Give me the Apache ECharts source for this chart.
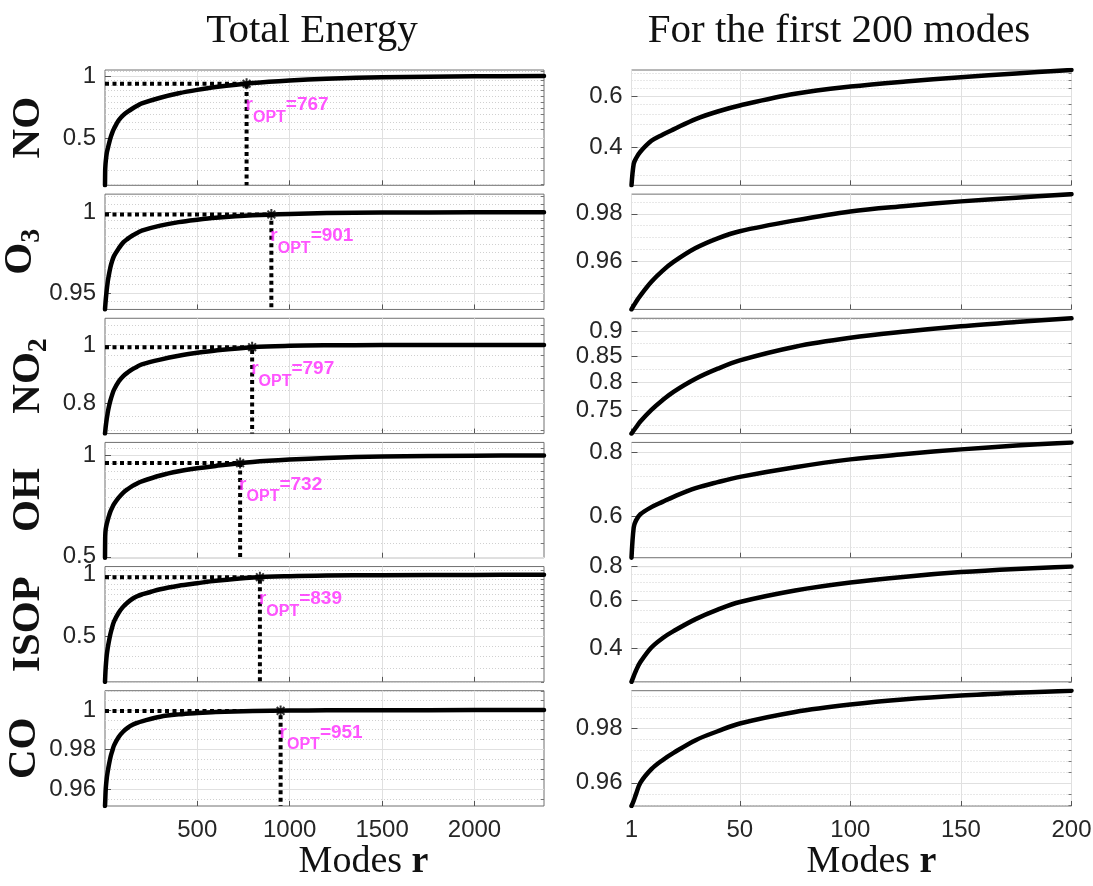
<!DOCTYPE html>
<html><head><meta charset="utf-8">
<script src="https://cdn.jsdelivr.net/npm/echarts@6/dist/echarts.min.js"></script>
<style>html,body{margin:0;padding:0;background:#fff}#c{width:1093px;height:886px}</style>
</head><body><div id="c"></div>
<script>
// ---------------- data ----------------
const speciesNames = ['NO', 'O3', 'NO2', 'OH', 'ISOP', 'CO'];
const speciesLabels = ['{n|NO}', '{n|O}{s|3}', '{n|NO}{s|2}', '{n|OH}', '{n|ISOP}', '{n|CO}'];
const modes = [1, 2, 3, 5, 10, 15, 20, 30, 40, 50, 75, 100, 125, 150, 175, 200,
               300, 400, 500, 600, 800, 1000, 1200, 1500, 2000, 2376];
const energyNO   = [0.295, 0.35, 0.365, 0.385, 0.42, 0.441, 0.46, 0.499, 0.53, 0.556, 0.61, 0.646, 0.673, 0.696, 0.717, 0.737,
                    0.785, 0.825, 0.857, 0.884, 0.925, 0.952, 0.97, 0.986, 0.997, 1.0];
const energyO3   = [0.9401, 0.9417, 0.9431, 0.9458, 0.9515, 0.956, 0.9597, 0.9655, 0.9696, 0.9726, 0.9772, 0.981, 0.9833, 0.9853, 0.9869, 0.9884,
                    0.9915, 0.9937, 0.9952, 0.9964, 0.998, 0.9989, 0.9994, 0.9997, 0.9999, 1.0];
const energyNO2  = [0.711, 0.716, 0.721, 0.731, 0.751, 0.768, 0.783, 0.807, 0.826, 0.842, 0.869, 0.887, 0.9, 0.911, 0.92, 0.928,
                    0.945, 0.959, 0.97, 0.979, 0.9915, 0.9965, 0.9984, 0.9994, 0.9999, 1.0];
const energyOH   = [0.497, 0.57, 0.588, 0.605, 0.625, 0.64, 0.655, 0.681, 0.7, 0.717, 0.749, 0.776, 0.795, 0.812, 0.826, 0.838,
                    0.872, 0.897, 0.916, 0.931, 0.956, 0.972, 0.983, 0.992, 0.998, 1.0];
const energyISOP = [0.3, 0.315, 0.33, 0.355, 0.402, 0.435, 0.462, 0.512, 0.555, 0.592, 0.653, 0.699, 0.735, 0.764, 0.785, 0.801,
                    0.85, 0.885, 0.91, 0.935, 0.97, 0.985, 0.992, 0.996, 0.999, 1.0];
const energyCO   = [0.9516, 0.9535, 0.9558, 0.96, 0.965, 0.9683, 0.971, 0.9757, 0.979, 0.9819, 0.9862, 0.989, 0.991, 0.9924, 0.9934, 0.9942,
                    0.9966, 0.9978, 0.9985, 0.999, 0.9995, 0.99975, 0.9999, 0.99995, 1.0, 1.0];
const rOpt = [767, 901, 797, 732, 839, 951];
const eOpt = [0.918, 0.9985, 0.9913, 0.949, 0.973, 0.9996];
const leftYMax = [1.07, 1.0115, 1.108, 1.093, 1.097, 1.0101];
const leftYTicks  = [[0.5, 1], [0.95, 1], [0.8, 1], [0.5, 1], [0.5, 1], [0.96, 0.98, 1]];
const rightYTicks = [[0.4, 0.6], [0.96, 0.98], [0.75, 0.8, 0.85, 0.9], [0.6, 0.8], [0.4, 0.6, 0.8], [0.96, 0.98]];
const leftMinorStep  = [0.05, 0.005, 0.04, 0.05, 0.05, 0.005];
const rightMinorStep = [0.04, 0.005, 0.025, 0.04, 0.05, 0.004];
const leftXTicks  = [500, 1000, 1500, 2000];
const rightXTicks = [1, 50, 100, 150, 200];
const leftXMax = 2376;
const rightXMax = 200;
const titles = ['Total Energy', 'For the first 200 modes'];
const xName = '{a|Modes }{b|r}';

const energy = [energyNO, energyO3, energyNO2, energyOH, energyISOP, energyCO];

// ---------------- layout / style ----------------
const gridTop0 = 70, gridStep = 124.14, gridH = 115.3;
const panelLeft = [105, 631.5], panelW = [439, 440];
const titleX = [307, 834];
const xNameShift = [78, 40];
const tickColor = '#262626';
const frameColor = '#707070';
const majorGrid = '#e0e0e0';
const minorGrid = '#d0d0d0';
const magenta = '#ff2bff';

function stepValues(lo, hi, step, skip) {
  const out = [];
  const k0 = Math.ceil(lo / step - 1e-9), k1 = Math.floor(hi / step + 1e-9);
  for (let k = k0; k <= k1; k++) {
    const v = +(k * step).toFixed(6);
    if (!skip.some(s => Math.abs(s - v) < 1e-9)) out.push(v);
  }
  return out;
}
const fmt = v => String(parseFloat(Number(v).toPrecision(6)));

const grids = [], xAxes = [], yAxes = [], series = [];
for (let i = 0; i < speciesNames.length; i++) {
  const e = energy[i];
  const leftData = modes.map((r, j) => [r, e[j]]);
  const rightData = leftData.filter(p => p[0] <= rightXMax);
  const lMin = Math.min(...e), lMax = leftYMax[i];
  const rMin = Math.min(...rightData.map(p => p[1])), rMax = Math.max(...rightData.map(p => p[1]));
  const top = gridTop0 + i * gridStep;
  const bottomRow = i === speciesNames.length - 1;

  for (let side = 0; side < 2; side++) {
    const gi = grids.length;
    grids.push({
      left: panelLeft[side], top: top, width: panelW[side], height: gridH,
      show: true, borderColor: frameColor, borderWidth: 1, backgroundColor: 'transparent',
      containLabel: false, outerBoundsMode: 'none'
    });
    const xt = side === 0 ? leftXTicks : rightXTicks;
    xAxes.push({
      type: 'value', gridIndex: gi, min: 1, max: side === 0 ? leftXMax : rightXMax,
      axisLine: { show: false },
      axisTick: { show: true, inside: true, length: 5, customValues: xt, lineStyle: { color: '#555' } },
      axisLabel: { show: bottomRow, customValues: xt, formatter: fmt, fontFamily: 'Liberation Sans', fontSize: 24, color: tickColor, margin: 12, hideOverlap: false, showMinLabel: true, showMaxLabel: true },
      splitLine: { show: true, lineStyle: { color: majorGrid, width: 1 } },
      name: bottomRow ? xName : '', nameLocation: 'middle', nameGap: 35,
      nameTextStyle: { padding: [0, 0, 0, xNameShift[side]], rich: {
        a: { fontFamily: 'Liberation Serif', fontSize: 38, color: '#111' },
        b: { fontFamily: 'Liberation Serif', fontWeight: 'bold', fontSize: 38, color: '#111' } } }
    });
    const yMin = side === 0 ? lMin : rMin, yMax = side === 0 ? lMax : rMax;
    const majors = side === 0 ? leftYTicks[i] : rightYTicks[i];
    const minors = stepValues(yMin, yMax, side === 0 ? leftMinorStep[i] : rightMinorStep[i], majors);
    const yMajorIndex = yAxes.length;
    yAxes.push({
      type: 'log', gridIndex: gi, min: yMin, max: yMax, position: 'left',
      axisLine: { show: false },
      axisTick: { show: true, inside: true, length: 6, customValues: majors, lineStyle: { color: '#555' } },
      axisLabel: { customValues: majors, formatter: fmt, fontFamily: 'Liberation Sans', fontSize: 24, color: tickColor, margin: 9, hideOverlap: false },
      splitLine: { show: true, lineStyle: { color: majorGrid, width: 1 } },
      name: side === 0 ? speciesLabels[i] : '', nameLocation: 'middle', nameRotate: 90, nameGap: 56,
      nameTextStyle: { rich: {
        n: { fontFamily: 'Liberation Serif', fontWeight: 'bold', fontSize: 41, color: '#111', verticalAlign: 'top', lineHeight: 41 },
        s: { fontFamily: 'Liberation Serif', fontWeight: 'bold', fontSize: 28, color: '#111', verticalAlign: 'top', lineHeight: 28, padding: [17, 0, 0, 0] } } }
    });
    yAxes.push({
      type: 'log', gridIndex: gi, min: yMin, max: yMax, position: 'right',
      axisLine: { show: false },
      axisTick: { show: true, inside: true, length: 3, customValues: minors, lineStyle: { color: '#777' } },
      axisLabel: { show: false },
      splitLine: { show: true, lineStyle: { color: minorGrid, width: 1, type: [1, 2] } }
    });
    series.push({
      type: 'line', xAxisIndex: gi, yAxisIndex: yMajorIndex,
      data: side === 0 ? leftData : rightData,
      showSymbol: false, symbol: 'none', smooth: 0.35,
      lineStyle: { color: '#000', width: 4.5, cap: 'round', join: 'round' }, z: 3, silent: true
    });
    if (side === 0) {
      series.push({
        type: 'line', xAxisIndex: gi, yAxisIndex: yMajorIndex,
        data: [[1, eOpt[i]], [rOpt[i], eOpt[i]], [rOpt[i], lMin]],
        showSymbol: false, symbol: 'none',
        lineStyle: { color: '#000', width: 4, type: [4, 3.5], cap: 'butt' }, z: 2, silent: true
      });
      series.push({
        type: 'scatter', xAxisIndex: gi, yAxisIndex: yMajorIndex,
        data: [[rOpt[i], eOpt[i]]],
        symbol: 'path://M0,-6L0,6M-6,0L6,0M-4.2,-4.2L4.2,4.2M-4.2,4.2L4.2,-4.2',
        symbolSize: 11,
        itemStyle: { color: 'none', borderColor: '#000', borderWidth: 2 },
        z: 5, silent: true,
        label: {
          show: true, position: [7, 20], align: 'left', verticalAlign: 'top',
          formatter: '{a|r}{b|OPT}{a|=' + rOpt[i] + '}',
          rich: {
            a: { fontFamily: 'Liberation Sans', fontWeight: 'bold', fontSize: 19, color: magenta, lineHeight: 20, verticalAlign: 'top' },
            b: { fontFamily: 'Liberation Sans', fontWeight: 'bold', fontSize: 16, color: magenta, lineHeight: 16, verticalAlign: 'top', padding: [14, 0, 0, 0] }
          }
        }
      });
    }
  }
}

const chart = echarts.init(document.getElementById('c'), null, { renderer: 'canvas' });
chart.setOption({
  backgroundColor: '#fff',
  animation: false,
  title: titles.map((t, k) => ({
    text: t, left: titleX[k], top: 6, textAlign: 'center',
    textStyle: { fontFamily: 'Liberation Serif', fontWeight: 'normal', fontSize: 41, color: '#111' }
  })),
  grid: grids, xAxis: xAxes, yAxis: yAxes, series: series
});
</script></body></html>
